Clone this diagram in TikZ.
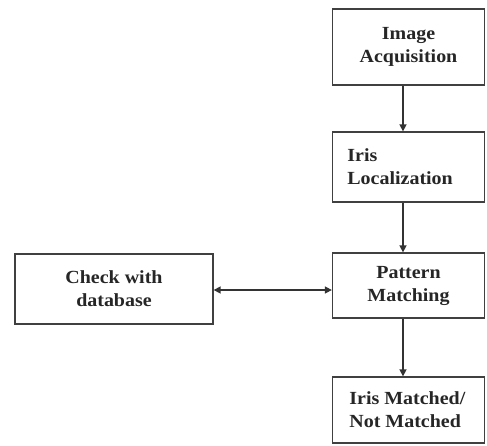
\documentclass[tikz,border=0pt]{standalone}
\usepackage{fontspec}
\setmainfont{Liberation Serif}[FakeStretch=1.08]
\usetikzlibrary{arrows.meta}
\begin{document}
\begin{tikzpicture}[x=1pt,y=-1pt,
  box/.style={draw=black!75,line width=1.3pt,fill=white,inner sep=0pt},
  lbl/.style={font=\fontsize{18.5}{23}\selectfont\bfseries,text=black!85},
  conn/.style={draw=black!80,line width=1.5pt,-{Triangle[length=7pt,width=7pt]}}]
\useasboundingbox (0,0) rectangle (487,445);
\node[box,minimum width=152pt,minimum height=76pt] (acq) at (408.5,47) {};
\node[lbl,align=center] at (acq.center) {Image\\Acquisition};
\node[box,minimum width=152pt,minimum height=70pt] (loc) at (408.5,167) {};
\node[lbl,align=left,anchor=west] at ([xshift=12pt]loc.west) {Iris\\Localization};
\node[box,minimum width=152pt,minimum height=65pt] (pat) at (408.5,285.5) {};
\node[lbl,align=center] at (pat.center) {Pattern\\Matching};
\node[box,minimum width=198pt,minimum height=70pt] (chk) at (114,289) {};
\node[lbl,align=center] at (chk.center) {Check with\\database};
\node[box,minimum width=152pt,minimum height=66pt] (res) at (408.5,410) {};
\node[lbl,align=left,anchor=west] at ([xshift=14pt]res.west) {Iris Matched/\\Not Matched};
\draw[conn] (acq.south -| 403,0) -- (loc.north -| 403,0);
\draw[conn] (loc.south -| 403,0) -- (pat.north -| 403,0);
\draw[conn] (pat.south -| 403,0) -- (res.north -| 403,0);
\draw[conn,{Triangle[length=7pt,width=7pt]}-{Triangle[length=7pt,width=7pt]}] (chk.east |- 0,290) -- (pat.west |- 0,290);
\end{tikzpicture}
\end{document}
